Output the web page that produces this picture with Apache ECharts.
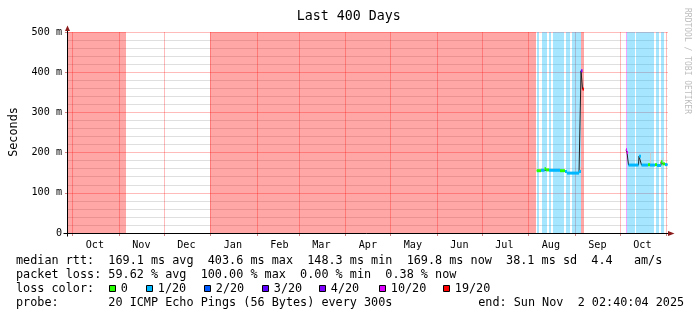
<!DOCTYPE html>
<html><head><meta charset="utf-8">
<script src="https://cdn.jsdelivr.net/npm/echarts@6/dist/echarts.min.js"></script>
<style>html,body{margin:0;padding:0;background:#fff}#c{width:697px;height:321px}</style>
</head><body><div id="c"></div>
<script>
// ---------- data ----------
const titleText = 'Last 400 Days';
const yAxisName = 'Seconds';
const watermark = 'RRDTOOL / TOBI OETIKER';
const rangeStart = '2024-09-28 02:40:04';
const rangeEnd = '2025-11-02 02:40:04';
const monthStarts = ['2024-10-01','2024-11-01','2024-12-01','2025-01-01','2025-02-01','2025-03-01','2025-04-01',
  '2025-05-01','2025-06-01','2025-07-01','2025-08-01','2025-09-01','2025-10-01','2025-11-01'];
const monthLabelDates = ['2024-10-16','2024-11-16','2024-12-16','2025-01-16','2025-02-16','2025-03-16','2025-04-16',
  '2025-05-16','2025-06-16','2025-07-16','2025-08-16','2025-09-16','2025-10-16'];
const monthLabels = ['Oct','Nov','Dec','Jan','Feb','Mar','Apr','May','Jun','Jul','Aug','Sep','Oct'];
const yTicks = [0, 100, 200, 300, 400, 500];
const yTickLabels = ['0', '100 m', '200 m', '300 m', '400 m', '500 m'];
const lossClasses = ['0', '1/20', '2/20', '3/20', '4/20', '10/20', '19/20'];
const lossColors = ['#26ff00', '#00b8ff', '#0059ff', '#5e00ff', '#7e00ff', '#dd00ff', '#ff0000'];
const lossBandColors = ['rgba(38,255,0,0.35)', 'rgba(0,184,255,0.35)', 'rgba(0,89,255,0.35)', 'rgba(94,0,255,0.35)',
  'rgba(126,0,255,0.35)', 'rgba(221,0,255,0.35)', 'rgba(255,0,0,0.35)'];
// [start, end, loss class index]
const lossBands = [
  ['2024-09-28 02:40', '2024-11-05 13:00', 6],
  ['2024-12-31 20:00', '2025-08-06 03:00', 6],
  ['2025-08-06 14:00', '2025-08-08 03:00', 1],
  ['2025-08-10 03:00', '2025-08-13 03:00', 1],
  ['2025-08-14 11:00', '2025-08-16 07:00', 1],
  ['2025-08-17 03:00', '2025-08-24 11:00', 1],
  ['2025-08-26 03:00', '2025-08-28 19:00', 1],
  ['2025-08-30 03:00', '2025-09-05 03:00', 1],
  ['2025-09-05 03:00', '2025-09-07 03:00', 6],
  ['2025-10-05 03:00', '2025-10-05 19:00', 5],
  ['2025-10-05 19:00', '2025-10-11 03:00', 1],
  ['2025-10-11 23:00', '2025-10-23 23:00', 1],
  ['2025-10-25 03:00', '2025-10-27 03:00', 1],
  ['2025-10-28 06:00', '2025-10-30 06:00', 1]
];
// median rtt runs (ms): [start, end, median, loss class index]
const medianRunsAug = [
  ['2025-08-06 14:00', '2025-08-09 11:00', 155, 0],
  ['2025-08-09 11:00', '2025-08-11 19:00', 156, 1],
  ['2025-08-11 19:00', '2025-08-12 19:00', 160, 0],
  ['2025-08-12 19:00', '2025-08-14 19:00', 157, 0],
  ['2025-08-14 19:00', '2025-08-22 03:00', 156, 1],
  ['2025-08-22 03:00', '2025-08-25 11:00', 155, 0],
  ['2025-08-25 11:00', '2025-08-26 19:00', 153, 1],
  ['2025-08-26 19:00', '2025-09-03 19:00', 149, 1],
  ['2025-09-03 19:00', '2025-09-05 03:00', 153, 1],
  ['2025-09-05 03:00', '2025-09-06 03:00', 403.6, 4],
  ['2025-09-06 03:00', '2025-09-07 03:00', 358, 6]
];
const medianRunsOct = [
  ['2025-10-05 03:00', '2025-10-05 19:00', 207, 5],
  ['2025-10-05 19:00', '2025-10-06 11:00', 200, 5],
  ['2025-10-06 19:00', '2025-10-13 11:00', 169, 1],
  ['2025-10-13 19:00', '2025-10-15 03:00', 191, 1],
  ['2025-10-15 11:00', '2025-10-19 19:00', 169, 1],
  ['2025-10-19 19:00', '2025-10-21 03:00', 170, 0],
  ['2025-10-21 03:00', '2025-10-24 11:00', 169, 1],
  ['2025-10-24 11:00', '2025-10-25 19:00', 170, 0],
  ['2025-10-25 19:00', '2025-10-28 11:00', 168, 1],
  ['2025-10-28 11:00', '2025-10-29 11:00', 177, 0],
  ['2025-10-29 11:00', '2025-10-31 03:00', 172, 0],
  ['2025-10-31 03:00', '2025-11-01 19:00', 170, 1]
];
// smoke (ping spread): [start, end, low ms, high ms]
const smokeSpans = [
  ['2025-08-06 14:00', '2025-08-07 03:00', 157, 178],
  ['2025-09-04 11:00', '2025-09-05 03:00', 153, 165],
  ['2025-10-21 03:00', '2025-10-21 19:00', 170, 200],
  ['2025-10-29 11:00', '2025-10-30 03:00', 172, 188]
];
const legendRtt = 'median rtt:  169.1 ms avg  403.6 ms max  148.3 ms min  169.8 ms now  38.1 ms sd  4.4   am/s';
const legendLoss = 'packet loss: 59.62 % avg  100.00 % max  0.00 % min  0.38 % now';
const legendLossColor = 'loss color:';
const legendProbe = 'probe:       20 ICMP Echo Pings (56 Bytes) every 300s';
const legendEnd = 'end: Sun Nov  2 02:40:04 2025';

// ---------- helpers ----------
function T(s) {
  const m = s.match(/(\d+)-(\d+)-(\d+)(?:[ T](\d+):(\d+)(?::(\d+))?)?/);
  return Date.UTC(+m[1], +m[2] - 1, +m[3], +(m[4] || 0), +(m[5] || 0), +(m[6] || 0));
}
const FONT = "'DejaVu Sans Mono', monospace";
const monthStartTimes = monthStarts.map(T);
const monthLabelTimes = monthLabelDates.map(T);
const runsAll = medianRunsAug.concat(medianRunsOct).map(r => [T(r[0]), T(r[1]), r[2], r[3]]);
function runLine(runs) {
  const out = [];
  runs.forEach(r => { out.push([T(r[0]), r[2]]); out.push([T(r[1]), r[2]]); });
  return out;
}

const chart = echarts.init(document.getElementById('c'), null, { renderer: 'canvas' });
const option = {
  animation: false,
  backgroundColor: '#ffffff',
  grid: { left: 68, top: 32, width: 600, height: 201, containLabel: false },
  xAxis: {
    type: 'value', min: T(rangeStart), max: T(rangeEnd),
    axisLine: { show: false },
    axisTick: { show: true, customValues: monthStartTimes, length: 3, lineStyle: { color: '#d08080' } },
    axisLabel: {
      customValues: monthLabelTimes, margin: 7, color: '#000', fontFamily: FONT, fontSize: 10.15,
      hideOverlap: false, showMinLabel: true, showMaxLabel: true,
      formatter: function (v) {
        const i = monthLabelTimes.findIndex(t => Math.abs(t - v) < 3600e3);
        return i >= 0 ? monthLabels[i] : '';
      }
    },
    splitLine: { show: true, lineStyle: { color: 'rgba(255,0,0,0.27)', width: 1 } }
  },
  yAxis: {
    type: 'value', min: 0, max: 500, interval: 100,
    axisLine: { show: false },
    axisTick: { show: true, length: 3, lineStyle: { color: '#d08080' } },
    axisLabel: {
      margin: 6, color: '#000', fontFamily: FONT, fontSize: 10.15,
      formatter: function (v) { const i = yTicks.indexOf(v); return i >= 0 ? yTickLabels[i] : ''; }
    },
    splitLine: { show: true, lineStyle: { color: 'rgba(255,0,0,0.27)', width: 1 } },
    minorTick: { show: false, splitNumber: 5 },
    minorSplitLine: { show: true, lineStyle: { color: 'rgba(128,128,128,0.25)', width: 1 } }
  },
  series: [
    {
      type: 'custom', name: 'loss', z: 1, silent: true,
      encode: { x: [0, 1], y: 2 },
      data: lossBands.map(b => [T(b[0]), T(b[1]), b[2]]),
      renderItem: function (params, api) {
        const s = api.coord([api.value(0), 500]);
        const e = api.coord([api.value(1), 0]);
        const x0 = Math.round(s[0]), x1 = Math.round(e[0]);
        return { type: 'rect', shape: { x: x0, y: s[1], width: Math.max(1, x1 - x0), height: e[1] - s[1] },
          style: { fill: lossBandColors[api.value(2)] } };
      }
    },
    {
      type: 'custom', name: 'smoke', z: 2, silent: true,
      encode: { x: [0, 1], y: [2, 3] },
      data: smokeSpans.map(s => [T(s[0]), T(s[1]), s[2], s[3]]),
      renderItem: function (params, api) {
        const a = api.coord([api.value(0), api.value(3)]);
        const b = api.coord([api.value(1), api.value(2)]);
        return { type: 'rect', shape: { x: a[0], y: a[1], width: Math.max(1, b[0] - a[0]), height: b[1] - a[1] },
          style: { fill: '#cfcfcf' } };
      }
    },
    { type: 'line', z: 3, silent: true, showSymbol: false, symbol: 'none', data: runLine(medianRunsAug),
      lineStyle: { color: '#202020', width: 1 } },
    { type: 'line', z: 3, silent: true, showSymbol: false, symbol: 'none', data: runLine(medianRunsOct),
      lineStyle: { color: '#202020', width: 1 } },
    {
      type: 'custom', name: 'median', z: 4, silent: true,
      encode: { x: [0, 1], y: 2 },
      data: runsAll,
      renderItem: function (params, api) {
        const a = api.coord([api.value(0), api.value(2)]);
        const b = api.coord([api.value(1), api.value(2)]);
        return { type: 'line', shape: { x1: a[0], y1: a[1], x2: b[0], y2: b[1] },
          style: { stroke: lossColors[api.value(3)], lineWidth: 3, lineCap: 'butt' } };
      }
    }
  ]
};
chart.setOption(option);

// ---------- axes, arrows, texts ----------
const pO = chart.convertToPixel({ gridIndex: 0 }, [T(rangeStart), 0]);
const pTop = chart.convertToPixel({ gridIndex: 0 }, [T(rangeStart), 500]);
const pR = chart.convertToPixel({ gridIndex: 0 }, [T(rangeEnd), 0]);
const ax = Math.round(pO[0]) - 0.5, ay = Math.round(pO[1]) + 0.5;
const arrowColor = '#8b1a1a';
function txt(x, y, text, size, extra) {
  return { type: 'text', x: x, y: y, z: 100, silent: true,
    style: Object.assign({ text: text, font: size + 'px ' + FONT, fill: '#000',
      align: 'left', textAlign: 'left', verticalAlign: 'middle', textVerticalAlign: 'middle' }, extra || {}) };
}
const g = [];
g.push({ type: 'line', z: 100, silent: true, shape: { x1: ax, y1: ay + 3, x2: ax, y2: pTop[1] - 2 }, style: { stroke: '#000', lineWidth: 1 } });
g.push({ type: 'line', z: 100, silent: true, shape: { x1: ax - 4, y1: ay, x2: pR[0] + 1, y2: ay }, style: { stroke: '#000', lineWidth: 1 } });
g.push({ type: 'polygon', z: 101, silent: true, shape: { points: [[ax - 2.5, pTop[1] - 1], [ax + 2.5, pTop[1] - 1], [ax, pTop[1] - 6.5]] }, style: { fill: arrowColor } });
g.push({ type: 'polygon', z: 101, silent: true, shape: { points: [[pR[0], ay - 2.5], [pR[0], ay + 2.5], [pR[0] + 6.5, ay]] }, style: { fill: arrowColor } });
g.push(txt(348.7, 16.5, titleText, 13.3, { align: 'center', textAlign: 'center' }));
g.push(Object.assign(txt(13.8, 132, yAxisName, 11.8, { align: 'center', textAlign: 'center' }), { rotation: Math.PI / 2 }));
g.push(Object.assign(txt(686.8, 61, watermark, 8, { align: 'center', textAlign: 'center', fill: '#bdbdbd' }), { rotation: -Math.PI / 2 }));
const rowY = [261, 275.1, 289.2, 303.3];
g.push(txt(16, rowY[0], legendRtt, 11.8));
g.push(txt(16, rowY[1], legendLoss, 11.8));
g.push(txt(16, rowY[2], legendLossColor, 11.8));
g.push(txt(16, rowY[3], legendProbe, 11.8));
g.push(txt(478.2, rowY[3], legendEnd, 11.8));
const boxX = [109.5, 146.5, 204.5, 262.5, 319.5, 379.5, 443.5];
lossClasses.forEach((c, i) => {
  g.push({ type: 'rect', z: 100, silent: true, shape: { x: boxX[i], y: rowY[2] - 3.7, width: 6, height: 6 },
    style: { fill: lossColors[i], stroke: '#000', lineWidth: 1 } });
  g.push(txt(boxX[i] + 11.3, rowY[2], c, 11.8));
});
chart.setOption({ graphic: { elements: g } });
</script>
</body></html>
